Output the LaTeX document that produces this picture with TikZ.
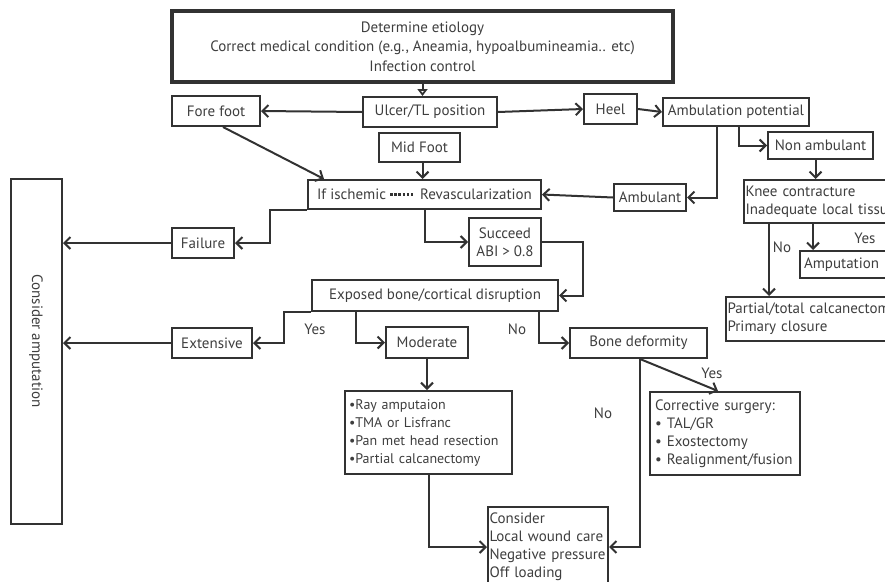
\documentclass[tikz,border=0pt]{standalone}
\usepackage{fontspec}
\setmainfont{PT Sans}
\usepackage{tikz}
\usetikzlibrary{arrows.meta}
\definecolor{inkgray}{RGB}{50,50,50}
\definecolor{textgray}{RGB}{62,62,62}

\begin{document}
\begin{tikzpicture}[x=1pt, y=-1pt,
  box/.style={draw=inkgray, line width=2pt, inner sep=0pt, text=textgray, font=\fontsize{15}{18}\selectfont},
  lbox/.style={box, anchor=north west, align=left, inner xsep=1.5pt},
  lbl/.style={inner sep=0pt, text=textgray, font=\fontsize{15}{18}\selectfont},
  arr/.style={draw=inkgray, line width=2pt, -{Straight Barb[length=6pt,width=12pt]}}]
\useasboundingbox (0,0) rectangle (885,581);
\clip (0,0) rectangle (885,581);
% top row
\node[box, line width=3.2pt, minimum width=501, minimum height=71, align=center, font=\fontsize{15}{19.5}\selectfont] (etiology) at (422.5,46.5) {Determine etiology\\Correct medical condition (e.g., Aneamia, hypoalbumineamia.. etc)\\Infection control};
\node[box, minimum width=88, minimum height=30] (forefoot) at (216,111) {Fore foot};
\node[box, minimum width=134, minimum height=30] (ulcer) at (430,112) {Ulcer/TL position};
\node[box, minimum width=53, minimum height=30] (heel) at (610.5,109) {Heel};
\node[box, minimum width=146, minimum height=28] (ambpot) at (736,112) {Ambulation potential};
\node[box, minimum width=105, minimum height=27] (nonamb) at (820.5,145.5) {Non ambulant};
\node[lbox, text width=170, minimum height=43] (knee) at (743,179) {Knee contracture\\Inadequate local tissue};
\node[lbox, text width=120, minimum height=27, inner xsep=4pt] (amput) at (799,250) {Amputation};
\node[lbox, text width=190, minimum height=44] (calcan) at (725,296) {Partial/total calcanectomy\\Primary closure};
% middle
\node[box, minimum width=81, minimum height=29] (midfoot) at (419.5,147.5) {Mid Foot};
\node[box, minimum width=233, minimum height=29] (ischemic) at (424.5,194.5) {If ischemic\hspace{34pt}Revascularization};
\draw[inkgray, line width=2.2pt, dash pattern=on 2.6pt off 1.6pt] ([xshift=83pt]ischemic.west) -- ([xshift=106pt]ischemic.west);
\node[box, minimum width=72, minimum height=27] (ambulant) at (650,197.5) {Ambulant};
\node[box, minimum width=62, minimum height=30] (failure) at (203,243) {Failure};
\node[box, minimum width=72, minimum height=48, align=center] (succeed) at (505,242) {Succeed\\ABI > 0.8};
\node[box, minimum width=51, minimum height=345] (consamp) at (36.5,351.5) {};
\node[lbl, rotate=-90] (consamptext) at (36,341) {Consider amputation};
\node[box, minimum width=246, minimum height=31] (exposed) at (435,295.5) {Exposed bone/cortical disruption};
\node[box, minimum width=80, minimum height=30] (extensive) at (212,343) {Extensive};
\node[box, minimum width=82, minimum height=31] (moderate) at (427,342.5) {Moderate};
\node[box, minimum width=137, minimum height=30] (bonedef) at (638.5,343) {Bone deformity};
% bottom
\node[lbox, text width=159, minimum height=83, inner xsep=4pt, font=\fontsize{14}{18}\selectfont] (ray) at (344,390) {•Ray amputaion\\•TMA or Lisfranc\\•Pan met head resection\\•Partial calcanectomy};
\node[lbox, text width=140, minimum height=83, inner xsep=5pt] (corrective) at (649,391) {Corrective surgery:\\• TAL/GR\\• Exostectomy\\• Realignment/fusion};
\node[lbox, text width=117, minimum height=80] (consider) at (487,506) {Consider\\Local wound care\\Negative pressure\\Off loading};
% labels
\node[lbl] (yesext) at (315,329) {Yes};
\node[lbl] (noexp) at (517,329) {No};
\node[lbl] (yesbone) at (712,373) {Yes};
\node[lbl] (nobone) at (603,413) {No};
\node[lbl] (yesknee) at (865,238) {Yes};
\node[lbl] (noknee) at (782,247) {No};
% connectors
\draw[draw=inkgray, line width=2pt, -{Triangle[open, length=7pt, width=10pt]}] (etiology.south) -- (etiology.south |- ulcer.north);
\draw[arr] (ulcer.west) -- (forefoot.east);
\draw[arr] (ulcer.east) -- (heel.west);
\draw[arr] (heel.east) -- (ambpot.west);
\draw[arr] ([xshift=3pt]ambpot.south) |- (nonamb.west);
\draw[arr] ([xshift=-19pt]ambpot.south) |- (ambulant.east);
\draw[arr] ([xshift=-5pt]nonamb.south) -- ([xshift=-5pt]nonamb.south |- knee.north);
\draw[arr] ([xshift=70pt]knee.south west) -- ([xshift=14pt]amput.north west);
\draw[arr] ([xshift=26pt]knee.south west) -- ([xshift=44pt]calcan.north west);
\draw[arr] (ambulant.west) -- (ischemic.east);
\draw[arr] ([xshift=3pt]midfoot.south) -- ([xshift=3pt]midfoot.south |- ischemic.north);
\draw[arr] ([xshift=7pt]forefoot.south) -- ([xshift=17pt]ischemic.north west);
\draw[arr] (ischemic.south west) -- ++(-37,0) |- (failure.east);
\draw[arr] (failure.west) -- (failure.west -| consamp.east);
\draw[arr] (ischemic.south) |- (succeed.west);
\draw[arr] (succeed.east) -- ++(41,0) |- (exposed.east);
\draw[arr] (exposed.south west) -- ++(-27,0) |- (extensive.east);
\draw[arr] (extensive.west) -- (extensive.west -| consamp.east);
\draw[arr] ([xshift=45pt]exposed.south west) |- (moderate.west);
\draw[arr] ([xshift=-20pt]exposed.south east) |- (bonedef.west);
\draw[arr] (moderate.south) -- (moderate.south |- ray.north);
\draw[arr] (ray.south) |- (consider.west);
\draw[arr] ([xshift=1.5pt]bonedef.south) -- ([xshift=69pt]corrective.north west);
\draw[arr] ([xshift=1.5pt]bonedef.south) |- (consider.east);
\end{tikzpicture}
\end{document}
